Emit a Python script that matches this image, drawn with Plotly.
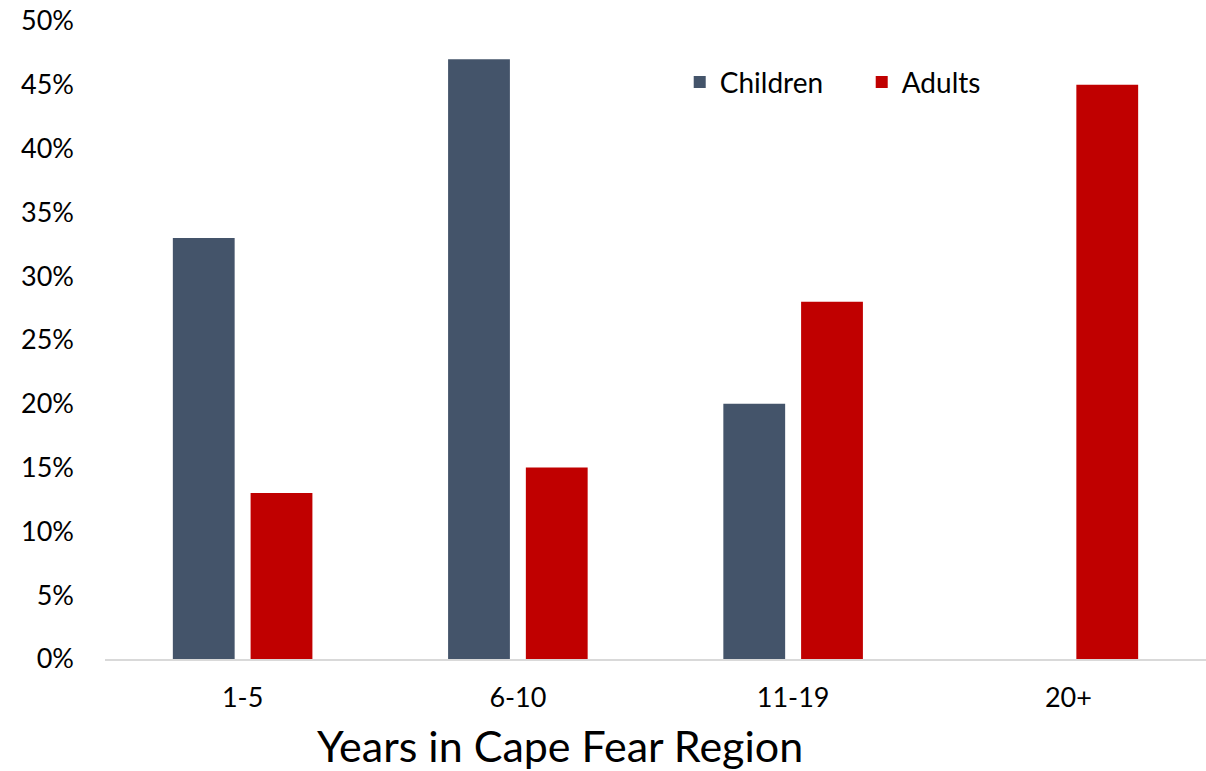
import plotly.graph_objects as go

categories = ["1-5", "6-10", "11-19", "20+"]
children = [0.33, 0.47, 0.20, None]
adults = [0.13, 0.15, 0.28, 0.45]
y_ticks = [0, 0.05, 0.10, 0.15, 0.20, 0.25, 0.30, 0.35, 0.40, 0.45, 0.50]
x_title = "Years in Cape Fear Region"

FONT = "Lato"

fig = go.Figure()
fig.add_trace(go.Bar(name="Children", x=categories, y=children,
                     marker=dict(color="#44546A", line=dict(width=0))))
fig.add_trace(go.Bar(name="Adults", x=categories, y=adults,
                     marker=dict(color="#C00000", line=dict(width=0))))

fig.update_layout(
    width=1206, height=771,
    margin=dict(l=105, r=0, t=21, b=112),
    paper_bgcolor="white", plot_bgcolor="white",
    barmode="group", bargap=0.435, bargroupgap=0.205,
    font=dict(family=FONT, size=27, color="#000000"),
    showlegend=True,
    legend=dict(orientation="h", x=0.522, y=0.904, xanchor="left", yanchor="middle",
                font=dict(family=FONT, size=28), itemwidth=30,
                entrywidth=137, entrywidthmode="pixels",
                bgcolor="rgba(0,0,0,0)"),
    xaxis=dict(showgrid=False, showline=True, linecolor="#D9D9D9", linewidth=2,
               ticks="", tickfont=dict(size=27), ticklabelstandoff=14),
    yaxis=dict(range=[0, 0.5], tickvals=y_ticks, tickformat=".0%",
               showgrid=False, zeroline=False, showline=False, ticks="",
               tickfont=dict(size=27), ticklabelstandoff=30),
)

# axis title placed left of centre, below the category labels
fig.add_annotation(text=x_title, xref="paper", yref="paper",
                   x=0.413, y=-0.135, xanchor="center", yanchor="middle",
                   showarrow=False, font=dict(family=FONT, size=43, color="#000000"))

fig.write_html("out.html")
